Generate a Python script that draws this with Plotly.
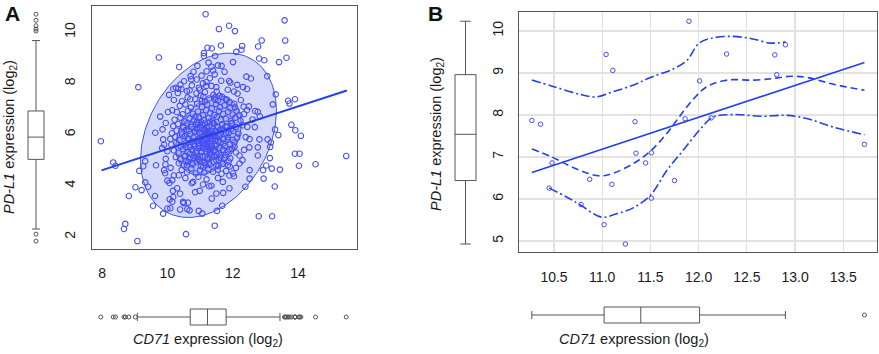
import numpy as np
import plotly.graph_objects as go

# ---------------- Panel A data (CD71 vs PD-L1, all samples) ----------------
outer_A = [
    (11.17, 10.70), (13.59, 10.46), (11.89, 10.25), (11.58, 10.12), (12.07, 10.04),
    (13.61, 9.67), (12.89, 9.67), (12.29, 9.46), (12.78, 9.44), (11.64, 9.48),
    (11.23, 9.39), (11.36, 9.36), (11.12, 9.18), (11.12, 9.07), (11.46, 9.07),
    (12.27, 9.31), (12.11, 9.23), (9.74, 9.01), (12.81, 8.97), (12.97, 8.90),
    (13.65, 9.00), (13.42, 8.83), (12.01, 8.83), (11.26, 8.81), (10.92, 8.68),
    (10.36, 8.64), (11.66, 8.68), (11.40, 8.50), (11.20, 8.47), (13.06, 8.28),
    (12.42, 8.26), (12.56, 8.19), (10.71, 8.28), (10.73, 8.16), (10.51, 8.08),
    (11.89, 8.09), (11.93, 8.03), (11.09, 8.00), (9.11, 7.85), (10.26, 7.83),
    (10.18, 7.79), (10.33, 7.79), (10.43, 7.78), (10.97, 7.83), (11.19, 7.90),
    (11.35, 7.90), (12.14, 7.94), (12.32, 7.85), (12.44, 7.78), (11.51, 7.68),
    (12.04, 7.68), (10.68, 7.73), (10.89, 7.61), (13.32, 7.57), (11.10, 7.48),
    (11.45, 7.45), (11.60, 7.51), (10.70, 7.38), (13.70, 7.32), (13.91, 7.38),
    (13.74, 7.21), (13.23, 7.18), (11.06, 7.32), (11.47, 7.35), (11.79, 7.38),
    (11.90, 7.28), (12.34, 7.09), (12.07, 7.06), (12.44, 6.96), (10.02, 6.88),
    (12.69, 6.92), (12.77, 6.89), (12.83, 6.71), (12.21, 6.75), (12.61, 6.59),
    (9.78, 6.70), (13.80, 6.38), (12.68, 6.29), (13.92, 6.17), (13.30, 6.20),
    (9.63, 6.07), (13.40, 5.98), (14.09, 5.95), (7.96, 5.74), (12.52, 5.82),
    (12.82, 5.81), (13.07, 5.81), (9.87, 5.81), (13.17, 5.69), (12.51, 5.50),
    (12.77, 5.50), (13.15, 5.52), (9.84, 5.47), (12.21, 5.18), (12.77, 5.18),
    (13.14, 5.08), (13.91, 5.25), (14.05, 5.25), (15.48, 5.16), (8.34, 4.91),
    (8.41, 4.78), (9.26, 4.76), (9.32, 4.96), (9.65, 4.80), (9.94, 4.84),
    (13.03, 4.79), (14.03, 4.78), (14.54, 4.84), (11.91, 4.75), (12.21, 4.87),
    (12.52, 4.61), (12.93, 4.61), (13.20, 4.67), (13.45, 4.63), (9.14, 4.58),
    (9.90, 4.61), (9.93, 4.49), (12.01, 4.48), (12.04, 4.37), (12.52, 4.28),
    (12.95, 4.28), (10.00, 4.20), (10.15, 4.22), (10.35, 4.41), (10.79, 4.15),
    (10.06, 4.11), (9.32, 4.13), (9.41, 3.96), (9.02, 3.94), (9.21, 3.83),
    (12.39, 3.96), (13.29, 3.97), (11.09, 4.05), (11.28, 3.98), (10.17, 3.80),
    (10.39, 3.69), (10.99, 3.80), (11.71, 3.72), (8.82, 3.60), (9.62, 3.60),
    (10.18, 3.56), (11.36, 3.50), (10.07, 3.47), (10.15, 3.38), (10.48, 3.37),
    (10.63, 3.34), (10.50, 3.32), (9.56, 3.22), (11.68, 3.22), (10.00, 3.11),
    (10.09, 3.12), (10.39, 3.07), (10.61, 3.09), (10.68, 3.04), (10.96, 3.02),
    (11.52, 3.02), (9.87, 2.91), (11.07, 2.91), (12.80, 2.81), (13.21, 2.81),
    (11.45, 2.44), (8.71, 2.51), (8.67, 2.31), (10.57, 2.11), (9.08, 1.84),
]
ring_A = [
    (10.05, 7.55), (10.20, 7.35), (10.32, 7.62), (10.15, 6.95), (10.40, 7.95),
    (10.60, 7.70), (10.75, 7.92), (10.90, 8.15), (11.05, 8.30), (11.20, 8.05),
    (11.30, 8.20), (11.45, 8.35), (11.50, 7.85), (11.65, 8.10), (11.75, 8.45),
    (11.35, 8.65), (11.55, 8.70), (10.80, 8.45), (11.00, 7.75), (11.15, 7.65),
    (11.85, 7.75), (12.15, 7.60), (12.25, 7.35), (9.95, 6.45), (9.85, 6.20),
    (9.90, 5.60), (10.00, 5.35), (9.95, 5.05), (10.10, 4.70), (10.20, 4.40),
    (10.55, 4.30), (10.75, 4.10), (10.95, 4.35), (11.20, 4.25), (11.35, 4.00),
    (11.55, 4.30), (11.70, 4.15), (11.90, 4.40), (12.10, 4.70), (12.30, 5.00),
    (12.35, 5.40), (12.40, 5.90), (12.45, 6.30), (12.35, 6.80), (12.50, 7.10),
    (10.30, 3.90), (10.85, 3.75), (11.50, 3.70), (11.90, 3.90),
]
core_A = [
    (10.62, 7.45), (10.85, 7.38), (11.02, 7.52), (11.28, 7.41), (11.41, 7.55),
    (11.55, 7.33), (11.68, 7.47), (11.83, 7.36), (10.45, 7.30), (11.15, 7.29),
    (10.38, 7.12), (10.55, 7.18), (10.72, 7.05), (10.91, 7.21), (11.06, 7.08),
    (11.22, 7.17), (11.36, 7.02), (11.49, 7.19), (11.61, 7.07), (11.75, 7.14),
    (11.92, 7.03), (12.05, 7.20), (10.29, 6.88), (10.47, 6.79), (10.63, 6.93),
    (10.78, 6.81), (10.94, 6.90), (11.09, 6.76), (11.19, 6.95), (11.31, 6.84),
    (11.44, 6.77), (11.58, 6.92), (11.71, 6.80), (11.86, 6.89), (12.00, 6.78),
    (12.12, 6.93), (10.86, 6.70), (10.22, 6.58), (10.40, 6.66), (10.52, 6.52),
    (10.68, 6.63), (10.81, 6.55), (10.97, 6.68), (11.12, 6.57), (11.26, 6.64),
    (11.38, 6.51), (11.52, 6.69), (11.64, 6.58), (11.79, 6.62), (11.95, 6.53),
    (12.08, 6.66), (12.24, 6.55), (11.03, 6.50), (10.18, 6.33), (10.33, 6.41),
    (10.49, 6.27), (10.61, 6.44), (10.74, 6.30), (10.88, 6.38), (11.01, 6.26),
    (11.15, 6.43), (11.28, 6.32), (11.40, 6.45), (11.55, 6.28), (11.68, 6.39),
    (11.82, 6.31), (11.97, 6.42), (12.10, 6.29), (12.30, 6.36), (11.22, 6.25),
    (10.95, 6.46), (10.14, 6.05), (10.28, 6.16), (10.44, 6.08), (10.58, 6.19),
    (10.71, 6.02), (10.84, 6.13), (10.98, 6.06), (11.11, 6.18), (11.24, 6.01),
    (11.30, 6.10), (11.37, 5.98), (11.47, 6.15), (11.60, 6.04), (11.73, 6.17),
    (11.88, 6.07), (12.02, 6.14), (12.18, 6.03), (11.18, 6.12), (11.42, 6.03),
    (10.90, 6.20), (10.09, 5.83), (10.24, 5.91), (10.37, 5.78), (10.53, 5.94),
    (10.66, 5.81), (10.79, 5.89), (10.93, 5.76), (11.06, 5.92), (11.19, 5.80),
    (11.33, 5.87), (11.46, 5.75), (11.58, 5.93), (11.72, 5.82), (11.85, 5.90),
    (12.00, 5.79), (12.14, 5.88), (11.27, 5.95), (10.99, 5.85), (10.12, 5.61),
    (10.27, 5.68), (10.41, 5.54), (10.56, 5.66), (10.69, 5.52), (10.83, 5.63),
    (10.96, 5.57), (11.10, 5.69), (11.23, 5.51), (11.35, 5.64), (11.50, 5.58),
    (11.63, 5.70), (11.77, 5.55), (11.91, 5.62), (12.06, 5.53), (11.16, 5.60),
    (10.74, 5.70), (10.20, 5.38), (10.34, 5.29), (10.48, 5.43), (10.62, 5.31),
    (10.76, 5.40), (10.90, 5.27), (11.04, 5.36), (11.17, 5.45), (11.30, 5.30),
    (11.44, 5.39), (11.57, 5.26), (11.70, 5.41), (11.84, 5.33), (11.98, 5.44),
    (10.97, 5.48), (10.26, 5.12), (10.40, 5.04), (10.55, 5.17), (10.68, 5.06),
    (10.82, 5.19), (10.95, 5.02), (11.08, 5.13), (11.21, 5.05), (11.36, 5.18),
    (11.49, 5.01), (11.62, 5.10), (11.78, 5.20), (11.93, 5.07), (10.89, 5.10),
    (10.35, 4.88), (10.50, 4.79), (10.64, 4.93), (10.77, 4.83), (10.91, 4.95),
    (11.03, 4.77), (11.14, 4.90), (11.29, 4.82), (11.42, 4.94), (11.56, 4.76),
    (11.69, 4.87), (11.85, 4.80), (10.58, 4.97), (10.44, 4.62), (10.60, 4.53),
    (10.73, 4.67), (10.87, 4.48), (11.00, 4.60), (11.13, 4.51), (11.26, 4.66),
    (11.40, 4.55), (11.54, 4.63), (11.66, 4.47), (11.80, 4.58),
]
dense_A = [
    (11.25, 5.65), (11.32, 5.75), (11.18, 5.58), (11.40, 5.82), (11.08, 5.48),
    (11.29, 5.42), (11.45, 5.62), (11.12, 5.78), (11.36, 5.54), (11.22, 5.88),
    (10.95, 5.65), (11.55, 5.75), (10.88, 5.35), (11.62, 5.98), (11.05, 6.02),
    (11.48, 5.32), (10.78, 5.75), (11.72, 5.65), (11.15, 5.12), (11.35, 6.15),
    (10.70, 5.25), (11.80, 6.05), (10.85, 6.10), (11.65, 5.20), (11.00, 4.95),
    (11.52, 6.32), (10.62, 5.85), (11.90, 5.42), (11.27, 4.90), (11.20, 6.30),
    (10.75, 4.90), (11.85, 5.80), (10.58, 5.50), (11.95, 6.20), (11.10, 4.75),
    (11.42, 6.42), (10.92, 6.25), (11.58, 5.00), (10.82, 5.55), (11.68, 6.40),
    (10.66, 6.15), (11.75, 5.10), (11.03, 5.30), (11.46, 6.08), (10.98, 5.85),
    (11.60, 5.48), (11.33, 5.22), (11.14, 6.18), (11.38, 5.95), (11.24, 5.05),
    (10.52, 5.15), (12.05, 5.70), (10.45, 6.00), (12.10, 5.30), (10.60, 4.80),
    (11.98, 6.45), (10.90, 6.48), (11.70, 4.85), (11.30, 6.50), (11.17, 4.82),
    (10.48, 6.30), (11.88, 4.95), (10.72, 6.40), (11.78, 6.32), (10.80, 5.08),
    (11.50, 4.78), (11.07, 6.38), (11.43, 5.15), (10.96, 5.03), (11.63, 6.20),
    (11.28, 6.05), (11.20, 5.35), (11.34, 5.45), (11.12, 5.65), (11.41, 5.38),
    (11.05, 5.72), (11.47, 5.90), (11.23, 6.12), (11.31, 5.28), (11.16, 6.00),
]
points_A = outer_A + ring_A + core_A + dense_A
cd71_A = [p[0] for p in points_A]
pdl1_A = [p[1] for p in points_A]

# regression line and data-ellipse parameters
fitA_x = [7.98, 15.50]
fitA_y = [4.60, 7.72]
ellA_center = (11.26, 5.97)
ellA_sd = (0.85, 1.31)
ellA_corr = 0.30
ellA_radii = [2.45, 1.18]  # 95% and 50% levels

# ---------------- Panel B data (subset, n = 26) ----------------
cd71_B = [10.27, 10.36, 10.48, 10.45, 10.78, 10.87, 11.02, 11.04, 11.11, 11.10,
          11.24, 11.34, 11.35, 11.45, 11.51, 11.51, 11.75, 11.86, 11.90, 12.01,
          12.13, 12.29, 12.79, 12.81, 12.90, 13.72]
pdl1_B = [7.87, 7.78, 6.86, 6.26, 5.87, 6.47, 5.39, 9.44, 9.06, 6.35,
          4.93, 7.84, 7.09, 6.86, 7.10, 6.02, 6.44, 7.91, 10.23, 8.81,
          7.93, 9.45, 9.43, 8.96, 9.67, 7.30]

fitB_x = [10.27, 13.72]
fitB_y = [6.63, 9.25]
smooth_x = [10.27, 10.48, 10.66, 10.84, 10.98, 11.11, 11.32, 11.50, 11.67, 11.81,
            11.95, 12.09, 12.30, 12.57, 12.78, 12.95, 13.13, 13.40, 13.72]
smooth_y = [7.19, 7.00, 6.79, 6.62, 6.55, 6.61, 6.84, 7.14, 7.56, 7.99,
            8.39, 8.68, 8.83, 8.83, 8.87, 8.92, 8.89, 8.73, 8.59]
upper_x = [10.27, 10.49, 10.77, 10.94, 11.11, 11.32, 11.50, 11.74, 11.88, 12.00,
           12.12, 12.33, 12.54, 12.75, 12.90]
upper_y = [8.83, 8.68, 8.49, 8.43, 8.55, 8.71, 8.89, 9.10, 9.30, 9.70,
           9.82, 9.87, 9.82, 9.71, 9.74]
lower_x = [10.45, 10.63, 10.78, 10.99, 11.15, 11.32, 11.50, 11.67, 11.84, 12.02,
           12.15, 12.36, 12.64, 12.92, 13.13, 13.40, 13.72]
lower_y = [6.26, 6.05, 5.85, 5.57, 5.65, 5.79, 6.09, 6.68, 7.16, 7.67,
           7.95, 8.01, 7.97, 7.99, 7.91, 7.71, 7.53]

A_xticks = [8, 10, 12, 14]
A_yticks = [2, 4, 6, 8, 10]
B_xticks = [10.5, 11.0, 11.5, 12.0, 12.5, 13.0, 13.5]
B_yticks = [5, 6, 7, 8, 9, 10]

# ---------------- styling ----------------
W, H = 879, 354
FONT = "Liberation Sans, Arial, Helvetica, sans-serif"
BLUE = "#2340e8"
PT_BLUE = "rgb(70,80,240)"
FILL = "rgba(40,60,235,0.20)"
GREY = "#555555"

A_xr = [7.69, 15.81]
A_yr = [1.53, 11.02]
B_xr = [10.137, 13.85]
B_yr = [4.74, 10.45]


def px_x(a, b):
    return [a / W, b / W]


def px_y(top, bottom):
    return [1 - bottom / H, 1 - top / H]


def qmethod(vals):
    return "exclusive" if len(vals) % 2 == 0 else "inclusive"


fig = go.Figure()

# ellipses (panel A)
t = np.linspace(0, 2 * np.pi, 200)
sx, sy = ellA_sd
cov = np.array([[sx * sx, ellA_corr * sx * sy], [ellA_corr * sx * sy, sy * sy]])
L = np.linalg.cholesky(cov)
for r in ellA_radii:
    pts = r * (L @ np.vstack([np.cos(t), np.sin(t)]))
    fig.add_trace(go.Scatter(
        x=ellA_center[0] + pts[0], y=ellA_center[1] + pts[1], mode="lines",
        fill="toself", fillcolor=FILL, line=dict(color="#3b52f0", width=1),
        xaxis="x", yaxis="y", hoverinfo="skip"))

fig.add_trace(go.Scatter(
    x=cd71_A, y=pdl1_A, mode="markers", xaxis="x", yaxis="y",
    marker=dict(symbol="circle-open", size=5.5, color=PT_BLUE, line=dict(width=1.1))))
fig.add_trace(go.Scatter(
    x=fitA_x, y=fitA_y, mode="lines", xaxis="x", yaxis="y",
    line=dict(color=BLUE, width=2)))

# marginal boxes A
box_common = dict(fillcolor="white", line=dict(color=GREY, width=1),
                  boxpoints="outliers", jitter=0, pointpos=0, width=1,
                  marker=dict(symbol="circle-open", size=4, color=GREY,
                              line=dict(width=1, color=GREY)))
fig.add_trace(go.Box(y=pdl1_A, x0=0, orientation="v", xaxis="x2", yaxis="y2",
                     quartilemethod=qmethod(pdl1_A), **box_common))
fig.add_trace(go.Box(x=cd71_A, y0=0, orientation="h", xaxis="x3", yaxis="y3",
                     quartilemethod=qmethod(cd71_A), **box_common))

# panel B
fig.add_trace(go.Scatter(
    x=cd71_B, y=pdl1_B, mode="markers", xaxis="x4", yaxis="y4",
    marker=dict(symbol="circle-open", size=4.5, color=PT_BLUE, line=dict(width=1))))
fig.add_trace(go.Scatter(
    x=fitB_x, y=fitB_y, mode="lines", xaxis="x4", yaxis="y4",
    line=dict(color=BLUE, width=1.6)))
fig.add_trace(go.Scatter(
    x=smooth_x, y=smooth_y, mode="lines", xaxis="x4", yaxis="y4",
    line=dict(color=BLUE, width=1.6, dash="7px,4px", shape="spline", smoothing=1)))
for xs, ys in [(upper_x, upper_y), (lower_x, lower_y)]:
    fig.add_trace(go.Scatter(
        x=xs, y=ys, mode="lines", xaxis="x4", yaxis="y4",
        line=dict(color=BLUE, width=1.6, dash="9px,3px,2px,3px", shape="spline", smoothing=1)))

fig.add_trace(go.Box(y=pdl1_B, x0=0, orientation="v", xaxis="x5", yaxis="y5",
                     quartilemethod=qmethod(pdl1_B), **box_common))
fig.add_trace(go.Box(x=cd71_B, y0=0, orientation="h", xaxis="x6", yaxis="y6",
                     quartilemethod=qmethod(cd71_B), **box_common))

main_ax = dict(showgrid=False, zeroline=False, showline=True, mirror=True,
               linecolor=GREY, linewidth=1, ticks="",
               tickfont=dict(family=FONT, size=14, color="#1a1a1a"))
hidden = dict(visible=False, showgrid=False, zeroline=False, fixedrange=True)

fig.update_layout(
    width=W, height=H, margin=dict(l=0, r=0, t=0, b=0), autosize=False,
    showlegend=False, paper_bgcolor="white", plot_bgcolor="white",
    font=dict(family=FONT, size=14, color="#1a1a1a"),
    xaxis=dict(domain=px_x(92, 357), anchor="y", range=A_xr, tickvals=A_xticks,
               ticklabelstandoff=11, **main_ax),
    yaxis=dict(domain=px_y(6, 249), anchor="x", range=A_yr, tickvals=A_yticks,
               tickangle=-90, ticklabelstandoff=10, **main_ax),
    xaxis2=dict(domain=px_x(20, 52), anchor="y2", range=[-1, 1], **hidden),
    yaxis2=dict(domain=px_y(6, 249), anchor="x2", range=A_yr, **hidden),
    xaxis3=dict(domain=px_x(92, 357), anchor="y3", range=A_xr, **hidden),
    yaxis3=dict(domain=px_y(301, 333), anchor="x3", range=[-1, 1], **hidden),
    xaxis4=dict(domain=px_x(519, 877), anchor="y4", range=B_xr, tickvals=B_xticks,
                tickformat=".1f", ticklabelstandoff=12, **main_ax),
    yaxis4=dict(domain=px_y(12, 252), anchor="x4", range=B_yr, tickvals=B_yticks,
                tickangle=-90, ticklabelstandoff=9, **main_ax),
    xaxis5=dict(domain=px_x(444.5, 486.5), anchor="y5", range=[-1, 1], **hidden),
    yaxis5=dict(domain=px_y(12, 252), anchor="x5", range=B_yr, **hidden),
    xaxis6=dict(domain=px_x(519, 877), anchor="y6", range=B_xr, **hidden),
    yaxis6=dict(domain=px_y(299, 331), anchor="x6", range=[-1, 1], **hidden),
)
fig.update_layout(
    xaxis4=dict(showgrid=True, gridcolor="#e2e2e2", gridwidth=1.2),
    yaxis4=dict(showgrid=True, gridcolor="#e2e2e2", gridwidth=1.2),
)

xt = "<i>CD71</i> expression (log<sub>2</sub>)"
yt = "<i>PD-L1</i> expression (log<sub>2</sub>)"
ann = [
    dict(text="<b>A</b>", x=12 / W, y=1 - 13 / H, font=dict(size=21, color="#111")),
    dict(text="<b>B</b>", x=435 / W, y=1 - 13 / H, font=dict(size=21, color="#111")),
    dict(text=xt, x=208 / W, y=1 - 340 / H, font=dict(size=14.5)),
    dict(text=xt, x=634 / W, y=1 - 340 / H, font=dict(size=14.5)),
    dict(text=yt, x=10 / W, y=1 - 137 / H, textangle=-90, font=dict(size=14.5)),
    dict(text=yt, x=437 / W, y=1 - 134 / H, textangle=-90, font=dict(size=14.5)),
]
for a in ann:
    a.update(xref="paper", yref="paper", showarrow=False, xanchor="center", yanchor="middle")
fig.update_layout(annotations=ann)

fig.write_html("out.html", config={"displayModeBar": False, "staticPlot": True},
               post_script="document.body.style.margin='0px';document.body.style.overflow='hidden';")
